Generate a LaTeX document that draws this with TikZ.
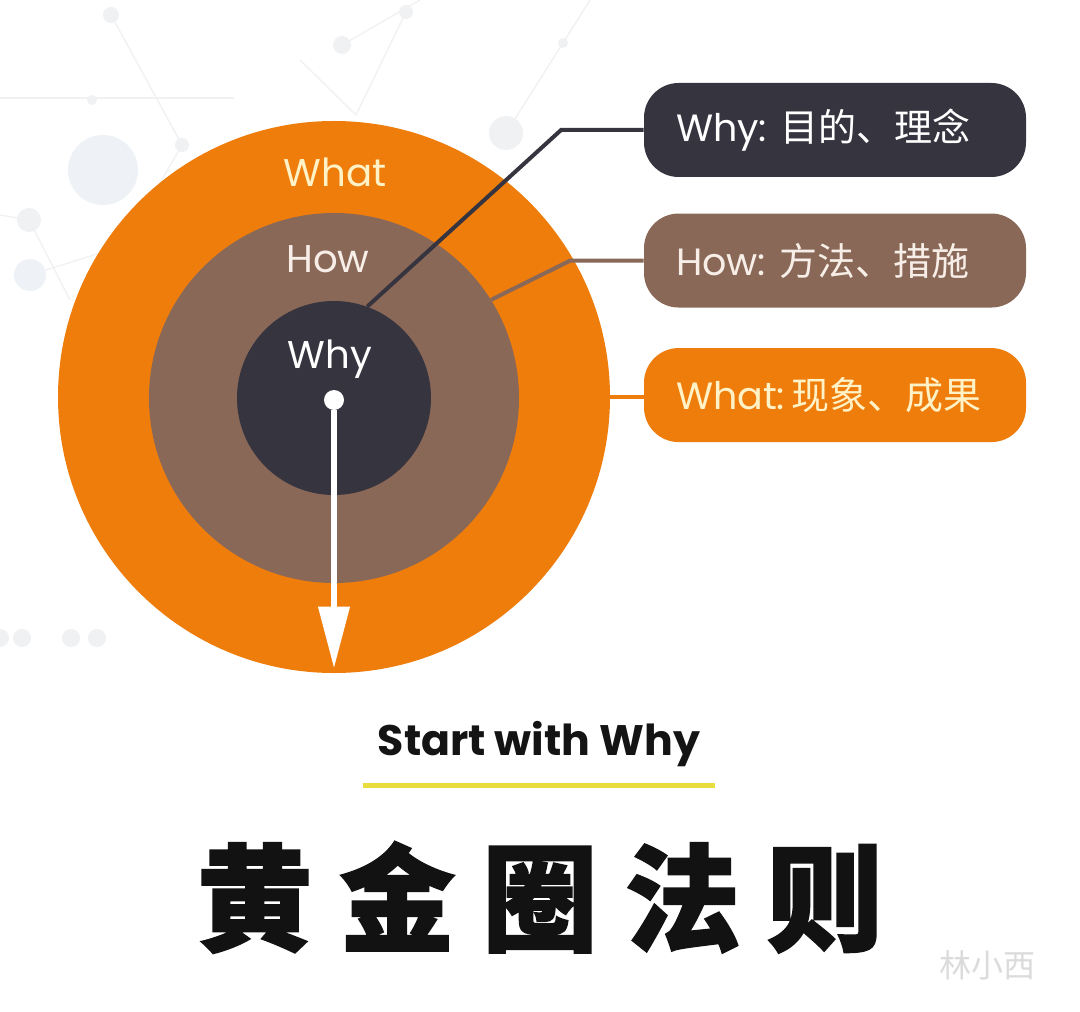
\documentclass[tikz,border=0pt]{standalone}
\usepackage{fontspec}
\setmainfont{Poppins}
\newfontfamily\cjk{Noto Sans CJK SC}[BoldFeatures={FakeBold=1.5}]
\usetikzlibrary{arrows.meta,positioning}

\definecolor{whatorange}{HTML}{EE7D0C}
\definecolor{howbrown}{HTML}{8A6858}
\definecolor{whydark}{HTML}{36343F}
\definecolor{whatcream}{HTML}{FFF2C6}
\definecolor{howcream}{HTML}{F7EEE8}
\definecolor{lineyellow}{HTML}{E8DC3F}
\definecolor{decogray}{HTML}{F0F1F3}
\definecolor{decoblue}{HTML}{EEF2F6}

\newcommand{\boxline}[1]{\makebox[238.5pt][l]{#1}}

\begin{document}
\begin{tikzpicture}[x=0.75pt, y=-0.75pt,
    ring/.style={circle, inner sep=0pt},
    ringlabel/.style={anchor=base, font=\fontsize{29}{31}\selectfont},
    box/.style={rectangle, rounded corners=26pt, inner ysep=0pt, inner xsep=24pt,
                minimum width=286.5pt, minimum height=70.5pt,
                font=\fontsize{28.5}{32}\selectfont},
    leader/.style={line width=3pt},
    deco/.style={draw=decogray, line width=1pt}
]
\useasboundingbox (0,0) rectangle (1080,1012);
\fill[white] (0,0) rectangle (1080,1012);

% --- faint network in the background ---
\draw[deco] (111,15) -- (182,145) -- (130,235);
\draw[deco] (0,98) -- (234,98);
\draw[deco] (406,12) -- (356,115) -- (300,60);
\draw[deco] (342,45) -- (420,0);
\draw[deco] (506,133) -- (563,43) -- (590,0);
\draw[deco] (0,215) -- (29,220) -- (70,300);
\draw[deco] (30,275) -- (110,250);
\foreach \p/\r in {{(111,15)}/8, {(342,45)}/9, {(406,12)}/7, {(506,133)}/17,
                   {(29,220)}/12, {(92,100)}/5, {(182,145)}/7, {(563,43)}/5,
                   {(0,638)}/9, {(22,638)}/9, {(71,638)}/9, {(97,638)}/9}
  \fill[decogray] \p circle (\r);
\fill[decoblue] (103,170) circle (35);
\fill[decoblue] (30,275) circle (16);

% --- the three rings ---
\node[ring, fill=whatorange, minimum size=414pt] (what) at (334,397) {};
\node[ring, fill=howbrown, minimum size=277.5pt] (how) at (334,398) {};
\node[ring, fill=whydark, minimum size=145.5pt] (why) at (334,398) {};

\node[ringlabel, text=whatcream] (whatlabel) at (335,187) {What};
\node[ringlabel, text=howcream] (howlabel) at (328,273) {How};
\node[ringlabel, text=white] (whylabel) at (330,368) {Why};

% --- boxes on the right ---
\node[box, fill=whydark, text=white] (whybox) at (835,130) {\boxline{Why: {\cjk 目的、理念}}};
\node[box, fill=howbrown, text=howcream, below=27pt of whybox] (howbox) {\boxline{How: {\cjk 方法、措施}}};
\node[box, fill=whatorange, text=whatcream, below=30pt of howbox] (whatbox) {\boxline{What:{\cjk\,现象、成果}}};

% leaders
\draw[leader, whydark] (why.70) -- ([xshift=-62pt]whybox.west) -- (whybox.west);
\draw[leader, howbrown] (how.32) -- ([xshift=-55pt]howbox.west) -- (howbox.west);
\draw[leader, whatorange] (what.east) -- (what.east -| whatbox.west);

% --- arrow from the centre ---
\node[circle, fill=white, minimum size=15pt, inner sep=0pt] (dot) at (334,400) {};
\coordinate (tip) at (334,668);
\draw[white, line width=3.8pt, -{Triangle[width=23pt,length=46pt]}] (dot) -- (tip);

% --- titles ---
\node[font=\bfseries\fontsize{32}{36}\selectfont, text=black!92] (slogan) at (539,744) {Start with Why};
\draw[lineyellow, line width=3.75pt] (363,785) -- (715,785);
\node[font=\cjk\bfseries\fontsize{87}{92}\selectfont, anchor=base, text=black!93] (title) at (540,942)
  {黄\hspace{20pt}金\hspace{20pt}圈\hspace{20pt}法\hspace{20pt}则};
\node[font=\cjk\fontsize{24}{26}\selectfont, text=black!14] (mark) at (987,965) {林小西};

\end{tikzpicture}
\end{document}
